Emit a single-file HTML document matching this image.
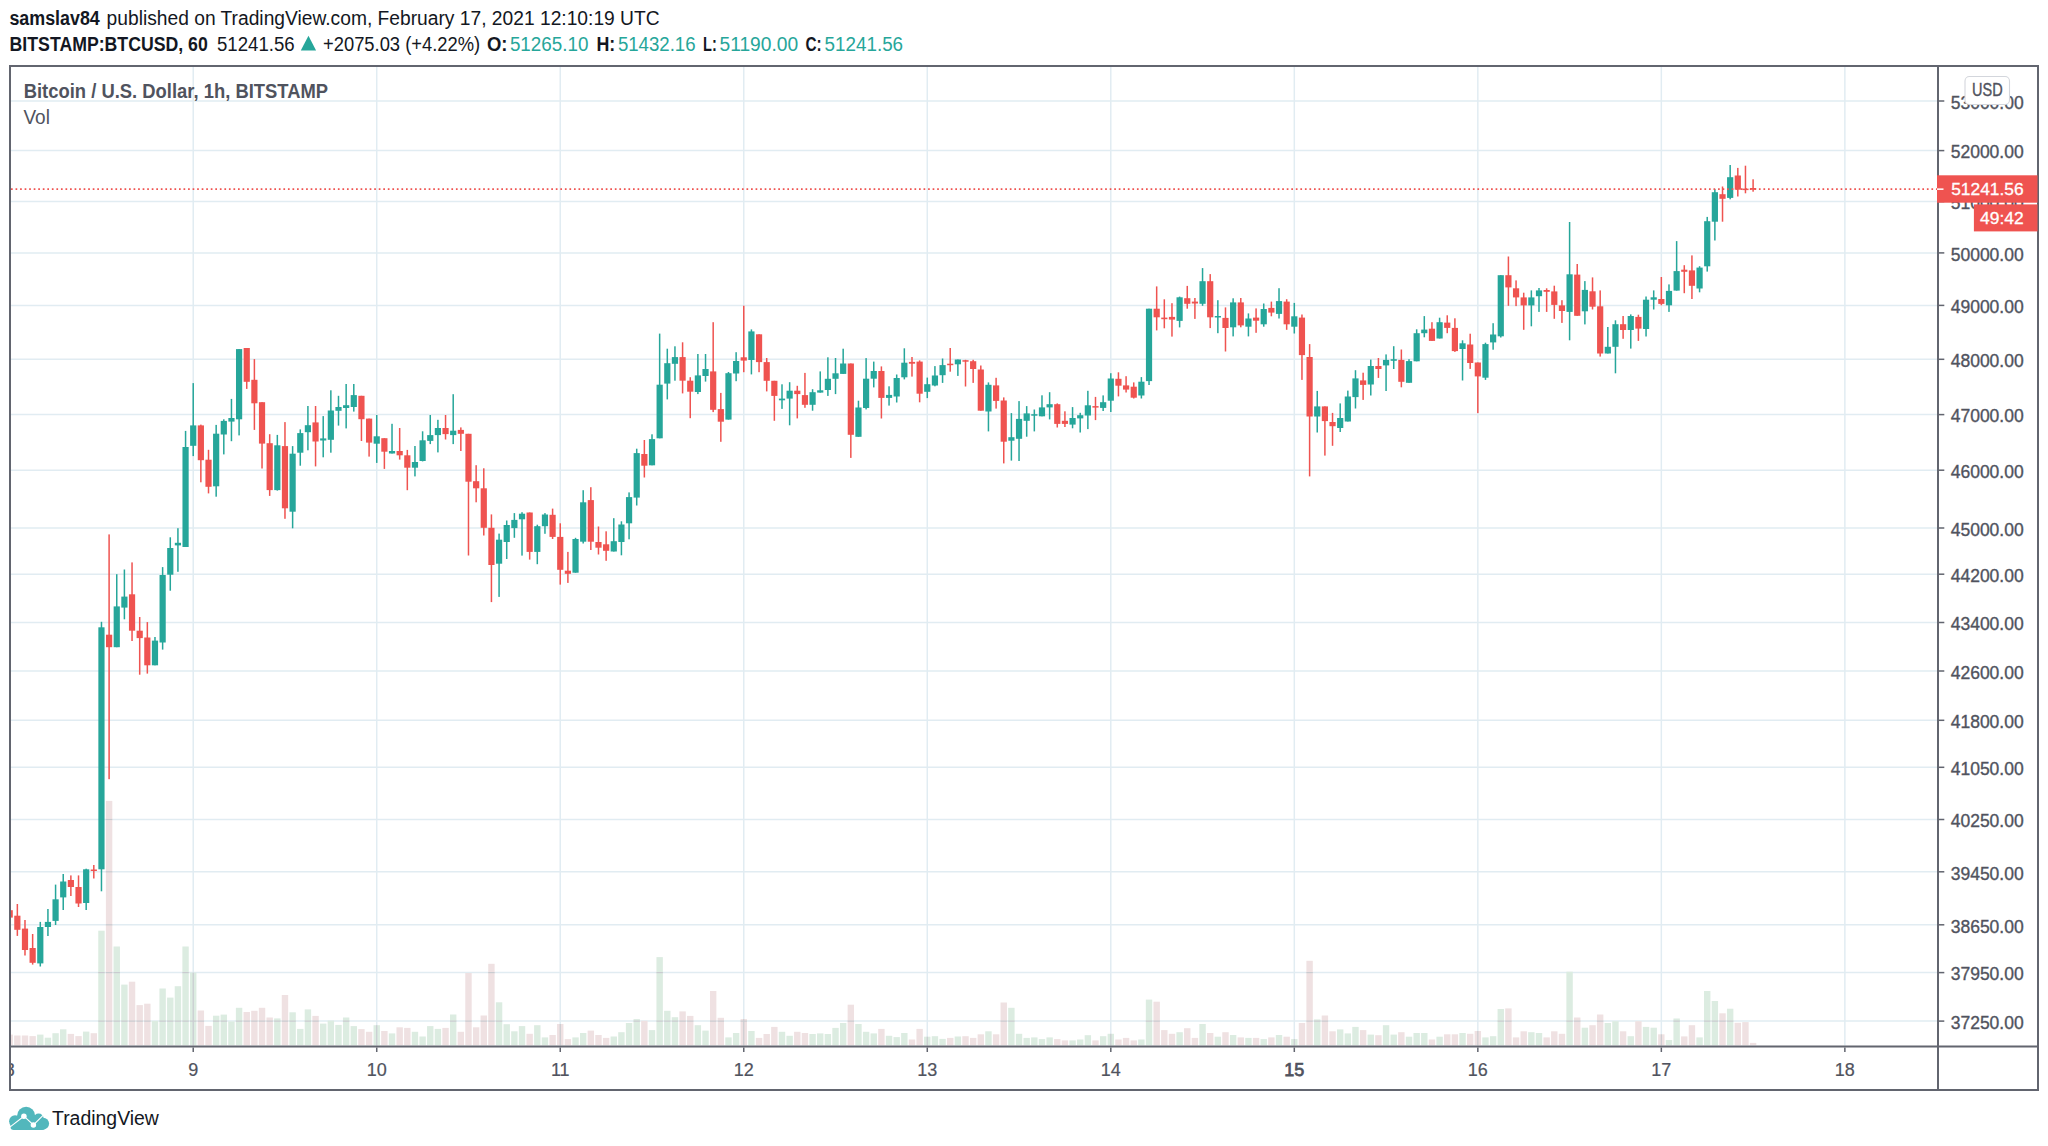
<!DOCTYPE html>
<html><head><meta charset="utf-8"><title>BTCUSD</title>
<style>html,body{margin:0;padding:0;background:#fff;width:2048px;height:1146px;overflow:hidden;position:relative}</style>
</head><body>
<svg width="2048" height="1146" viewBox="0 0 2048 1146" style="position:absolute;left:0;top:0">
<defs><clipPath id="pane"><rect x="11" y="67" width="1926" height="978.5"/></clipPath></defs>
<g stroke="#e1ecf2" stroke-width="1.5">
<line x1="11" y1="101" x2="1937" y2="101"/>
<line x1="11" y1="150.6" x2="1937" y2="150.6"/>
<line x1="11" y1="201.6" x2="1937" y2="201.6"/>
<line x1="11" y1="252.9" x2="1937" y2="252.9"/>
<line x1="11" y1="305.4" x2="1937" y2="305.4"/>
<line x1="11" y1="359.3" x2="1937" y2="359.3"/>
<line x1="11" y1="414.6" x2="1937" y2="414.6"/>
<line x1="11" y1="470.2" x2="1937" y2="470.2"/>
<line x1="11" y1="528" x2="1937" y2="528"/>
<line x1="11" y1="574.2" x2="1937" y2="574.2"/>
<line x1="11" y1="622.5" x2="1937" y2="622.5"/>
<line x1="11" y1="671" x2="1937" y2="671"/>
<line x1="11" y1="720.3" x2="1937" y2="720.3"/>
<line x1="11" y1="767.3" x2="1937" y2="767.3"/>
<line x1="11" y1="819.5" x2="1937" y2="819.5"/>
<line x1="11" y1="871.8" x2="1937" y2="871.8"/>
<line x1="11" y1="924.8" x2="1937" y2="924.8"/>
<line x1="11" y1="972.6" x2="1937" y2="972.6"/>
<line x1="11" y1="1021.1" x2="1937" y2="1021.1"/>
<line x1="193.22" y1="67" x2="193.22" y2="1045.5"/>
<line x1="376.73" y1="67" x2="376.73" y2="1045.5"/>
<line x1="560.25" y1="67" x2="560.25" y2="1045.5"/>
<line x1="743.76" y1="67" x2="743.76" y2="1045.5"/>
<line x1="927.28" y1="67" x2="927.28" y2="1045.5"/>
<line x1="1110.80" y1="67" x2="1110.80" y2="1045.5"/>
<line x1="1294.31" y1="67" x2="1294.31" y2="1045.5"/>
<line x1="1477.83" y1="67" x2="1477.83" y2="1045.5"/>
<line x1="1661.34" y1="67" x2="1661.34" y2="1045.5"/>
<line x1="1844.86" y1="67" x2="1844.86" y2="1045.5"/>
</g>
<g clip-path="url(#pane)">
<g>
<rect x="6.50" y="1034.6" width="6.4" height="10.9" fill="#efe1e2"/>
<rect x="14.15" y="1035.5" width="6.4" height="10.0" fill="#efe1e2"/>
<rect x="21.79" y="1035.5" width="6.4" height="10.0" fill="#efe1e2"/>
<rect x="29.44" y="1036.1" width="6.4" height="9.4" fill="#efe1e2"/>
<rect x="37.09" y="1034.6" width="6.4" height="10.9" fill="#dcece1"/>
<rect x="44.73" y="1037.7" width="6.4" height="7.8" fill="#dcece1"/>
<rect x="52.38" y="1033.2" width="6.4" height="12.3" fill="#dcece1"/>
<rect x="60.03" y="1029.3" width="6.4" height="16.2" fill="#dcece1"/>
<rect x="67.67" y="1033.9" width="6.4" height="11.6" fill="#efe1e2"/>
<rect x="75.32" y="1036.1" width="6.4" height="9.4" fill="#efe1e2"/>
<rect x="82.97" y="1031.6" width="6.4" height="13.9" fill="#dcece1"/>
<rect x="90.61" y="1033.2" width="6.4" height="12.3" fill="#efe1e2"/>
<rect x="98.26" y="930.7" width="6.4" height="114.8" fill="#dcece1"/>
<rect x="98.26" y="972.0" width="6.4" height="1.2" fill="#c9cbd0"/>
<rect x="98.26" y="1020.5" width="6.4" height="1.2" fill="#c9cbd0"/>
<rect x="105.90" y="800.9" width="6.4" height="244.6" fill="#efe1e2"/>
<rect x="105.90" y="818.9" width="6.4" height="1.2" fill="#c9cbd0"/>
<rect x="105.90" y="871.2" width="6.4" height="1.2" fill="#c9cbd0"/>
<rect x="105.90" y="924.2" width="6.4" height="1.2" fill="#c9cbd0"/>
<rect x="105.90" y="972.0" width="6.4" height="1.2" fill="#c9cbd0"/>
<rect x="105.90" y="1020.5" width="6.4" height="1.2" fill="#c9cbd0"/>
<rect x="113.55" y="946.5" width="6.4" height="99.0" fill="#dcece1"/>
<rect x="113.55" y="972.0" width="6.4" height="1.2" fill="#c9cbd0"/>
<rect x="113.55" y="1020.5" width="6.4" height="1.2" fill="#c9cbd0"/>
<rect x="121.20" y="984.6" width="6.4" height="60.9" fill="#dcece1"/>
<rect x="121.20" y="1020.5" width="6.4" height="1.2" fill="#c9cbd0"/>
<rect x="128.84" y="981.7" width="6.4" height="63.8" fill="#efe1e2"/>
<rect x="128.84" y="1020.5" width="6.4" height="1.2" fill="#c9cbd0"/>
<rect x="136.49" y="1005.1" width="6.4" height="40.4" fill="#efe1e2"/>
<rect x="136.49" y="1020.5" width="6.4" height="1.2" fill="#c9cbd0"/>
<rect x="144.14" y="1003.7" width="6.4" height="41.8" fill="#efe1e2"/>
<rect x="144.14" y="1020.5" width="6.4" height="1.2" fill="#c9cbd0"/>
<rect x="151.78" y="1020.9" width="6.4" height="24.6" fill="#dcece1"/>
<rect x="159.43" y="988.5" width="6.4" height="57.0" fill="#dcece1"/>
<rect x="159.43" y="1020.5" width="6.4" height="1.2" fill="#c9cbd0"/>
<rect x="167.08" y="997.6" width="6.4" height="47.9" fill="#dcece1"/>
<rect x="167.08" y="1020.5" width="6.4" height="1.2" fill="#c9cbd0"/>
<rect x="174.72" y="986.2" width="6.4" height="59.3" fill="#dcece1"/>
<rect x="174.72" y="1020.5" width="6.4" height="1.2" fill="#c9cbd0"/>
<rect x="182.37" y="946.5" width="6.4" height="99.0" fill="#dcece1"/>
<rect x="182.37" y="972.0" width="6.4" height="1.2" fill="#c9cbd0"/>
<rect x="182.37" y="1020.5" width="6.4" height="1.2" fill="#c9cbd0"/>
<rect x="190.02" y="972.6" width="6.4" height="72.9" fill="#dcece1"/>
<rect x="190.02" y="1020.5" width="6.4" height="1.2" fill="#c9cbd0"/>
<rect x="192.62" y="972.6" width="1.2" height="72.9" fill="#c9cbd0"/>
<rect x="197.66" y="1010.5" width="6.4" height="35.0" fill="#efe1e2"/>
<rect x="197.66" y="1020.5" width="6.4" height="1.2" fill="#c9cbd0"/>
<rect x="205.31" y="1025.9" width="6.4" height="19.6" fill="#efe1e2"/>
<rect x="212.96" y="1015.7" width="6.4" height="29.8" fill="#dcece1"/>
<rect x="212.96" y="1020.5" width="6.4" height="1.2" fill="#c9cbd0"/>
<rect x="220.60" y="1014.6" width="6.4" height="30.9" fill="#dcece1"/>
<rect x="220.60" y="1020.5" width="6.4" height="1.2" fill="#c9cbd0"/>
<rect x="228.25" y="1021.4" width="6.4" height="24.1" fill="#dcece1"/>
<rect x="235.89" y="1007.8" width="6.4" height="37.7" fill="#dcece1"/>
<rect x="235.89" y="1020.5" width="6.4" height="1.2" fill="#c9cbd0"/>
<rect x="243.54" y="1012.0" width="6.4" height="33.5" fill="#efe1e2"/>
<rect x="243.54" y="1020.5" width="6.4" height="1.2" fill="#c9cbd0"/>
<rect x="251.19" y="1010.8" width="6.4" height="34.7" fill="#efe1e2"/>
<rect x="251.19" y="1020.5" width="6.4" height="1.2" fill="#c9cbd0"/>
<rect x="258.83" y="1007.8" width="6.4" height="37.7" fill="#efe1e2"/>
<rect x="258.83" y="1020.5" width="6.4" height="1.2" fill="#c9cbd0"/>
<rect x="266.48" y="1017.5" width="6.4" height="28.0" fill="#efe1e2"/>
<rect x="266.48" y="1020.5" width="6.4" height="1.2" fill="#c9cbd0"/>
<rect x="274.13" y="1018.4" width="6.4" height="27.1" fill="#dcece1"/>
<rect x="274.13" y="1020.5" width="6.4" height="1.2" fill="#c9cbd0"/>
<rect x="281.77" y="995.0" width="6.4" height="50.5" fill="#efe1e2"/>
<rect x="281.77" y="1020.5" width="6.4" height="1.2" fill="#c9cbd0"/>
<rect x="289.42" y="1012.3" width="6.4" height="33.2" fill="#dcece1"/>
<rect x="289.42" y="1020.5" width="6.4" height="1.2" fill="#c9cbd0"/>
<rect x="297.07" y="1028.9" width="6.4" height="16.6" fill="#dcece1"/>
<rect x="304.71" y="1009.4" width="6.4" height="36.1" fill="#dcece1"/>
<rect x="304.71" y="1020.5" width="6.4" height="1.2" fill="#c9cbd0"/>
<rect x="312.36" y="1015.9" width="6.4" height="29.6" fill="#efe1e2"/>
<rect x="312.36" y="1020.5" width="6.4" height="1.2" fill="#c9cbd0"/>
<rect x="320.01" y="1023.6" width="6.4" height="21.9" fill="#dcece1"/>
<rect x="327.65" y="1020.6" width="6.4" height="24.9" fill="#dcece1"/>
<rect x="335.30" y="1024.9" width="6.4" height="20.6" fill="#dcece1"/>
<rect x="342.95" y="1017.5" width="6.4" height="28.0" fill="#dcece1"/>
<rect x="342.95" y="1020.5" width="6.4" height="1.2" fill="#c9cbd0"/>
<rect x="350.59" y="1026.1" width="6.4" height="19.4" fill="#dcece1"/>
<rect x="358.24" y="1029.1" width="6.4" height="16.4" fill="#efe1e2"/>
<rect x="365.89" y="1031.8" width="6.4" height="13.7" fill="#efe1e2"/>
<rect x="373.53" y="1025.2" width="6.4" height="20.3" fill="#dcece1"/>
<rect x="376.13" y="1025.2" width="1.2" height="20.3" fill="#c9cbd0"/>
<rect x="381.18" y="1031.0" width="6.4" height="14.5" fill="#efe1e2"/>
<rect x="388.82" y="1033.4" width="6.4" height="12.1" fill="#dcece1"/>
<rect x="396.47" y="1027.3" width="6.4" height="18.2" fill="#efe1e2"/>
<rect x="404.12" y="1027.9" width="6.4" height="17.6" fill="#efe1e2"/>
<rect x="411.76" y="1031.8" width="6.4" height="13.7" fill="#dcece1"/>
<rect x="419.41" y="1036.5" width="6.4" height="9.0" fill="#dcece1"/>
<rect x="427.06" y="1026.1" width="6.4" height="19.4" fill="#dcece1"/>
<rect x="434.70" y="1028.9" width="6.4" height="16.6" fill="#dcece1"/>
<rect x="442.35" y="1027.9" width="6.4" height="17.6" fill="#efe1e2"/>
<rect x="450.00" y="1014.5" width="6.4" height="31.0" fill="#dcece1"/>
<rect x="450.00" y="1020.5" width="6.4" height="1.2" fill="#c9cbd0"/>
<rect x="457.64" y="1031.8" width="6.4" height="13.7" fill="#efe1e2"/>
<rect x="465.29" y="973.0" width="6.4" height="72.5" fill="#efe1e2"/>
<rect x="465.29" y="1020.5" width="6.4" height="1.2" fill="#c9cbd0"/>
<rect x="472.94" y="1027.3" width="6.4" height="18.2" fill="#efe1e2"/>
<rect x="480.58" y="1015.5" width="6.4" height="30.0" fill="#efe1e2"/>
<rect x="480.58" y="1020.5" width="6.4" height="1.2" fill="#c9cbd0"/>
<rect x="488.23" y="963.8" width="6.4" height="81.7" fill="#efe1e2"/>
<rect x="488.23" y="972.0" width="6.4" height="1.2" fill="#c9cbd0"/>
<rect x="488.23" y="1020.5" width="6.4" height="1.2" fill="#c9cbd0"/>
<rect x="495.88" y="1002.3" width="6.4" height="43.2" fill="#dcece1"/>
<rect x="495.88" y="1020.5" width="6.4" height="1.2" fill="#c9cbd0"/>
<rect x="503.52" y="1024.2" width="6.4" height="21.3" fill="#dcece1"/>
<rect x="511.17" y="1031.3" width="6.4" height="14.2" fill="#dcece1"/>
<rect x="518.82" y="1026.1" width="6.4" height="19.4" fill="#dcece1"/>
<rect x="526.46" y="1033.8" width="6.4" height="11.7" fill="#efe1e2"/>
<rect x="534.11" y="1025.2" width="6.4" height="20.3" fill="#dcece1"/>
<rect x="541.75" y="1037.4" width="6.4" height="8.1" fill="#dcece1"/>
<rect x="549.40" y="1035.0" width="6.4" height="10.5" fill="#efe1e2"/>
<rect x="557.05" y="1024.0" width="6.4" height="21.5" fill="#efe1e2"/>
<rect x="559.65" y="1024.0" width="1.2" height="21.5" fill="#c9cbd0"/>
<rect x="564.69" y="1039.1" width="6.4" height="6.4" fill="#efe1e2"/>
<rect x="572.34" y="1037.4" width="6.4" height="8.1" fill="#dcece1"/>
<rect x="579.99" y="1033.0" width="6.4" height="12.5" fill="#dcece1"/>
<rect x="587.63" y="1030.6" width="6.4" height="14.9" fill="#efe1e2"/>
<rect x="595.28" y="1035.0" width="6.4" height="10.5" fill="#efe1e2"/>
<rect x="602.93" y="1037.9" width="6.4" height="7.6" fill="#efe1e2"/>
<rect x="610.57" y="1036.5" width="6.4" height="9.0" fill="#dcece1"/>
<rect x="618.22" y="1032.2" width="6.4" height="13.3" fill="#dcece1"/>
<rect x="625.87" y="1023.0" width="6.4" height="22.5" fill="#dcece1"/>
<rect x="633.51" y="1019.1" width="6.4" height="26.4" fill="#dcece1"/>
<rect x="633.51" y="1020.5" width="6.4" height="1.2" fill="#c9cbd0"/>
<rect x="641.16" y="1020.8" width="6.4" height="24.7" fill="#efe1e2"/>
<rect x="648.81" y="1030.1" width="6.4" height="15.4" fill="#dcece1"/>
<rect x="656.45" y="957.1" width="6.4" height="88.4" fill="#dcece1"/>
<rect x="656.45" y="972.0" width="6.4" height="1.2" fill="#c9cbd0"/>
<rect x="656.45" y="1020.5" width="6.4" height="1.2" fill="#c9cbd0"/>
<rect x="664.10" y="1010.8" width="6.4" height="34.7" fill="#dcece1"/>
<rect x="664.10" y="1020.5" width="6.4" height="1.2" fill="#c9cbd0"/>
<rect x="671.75" y="1017.2" width="6.4" height="28.3" fill="#dcece1"/>
<rect x="671.75" y="1020.5" width="6.4" height="1.2" fill="#c9cbd0"/>
<rect x="679.39" y="1011.4" width="6.4" height="34.1" fill="#efe1e2"/>
<rect x="679.39" y="1020.5" width="6.4" height="1.2" fill="#c9cbd0"/>
<rect x="687.04" y="1015.9" width="6.4" height="29.6" fill="#efe1e2"/>
<rect x="687.04" y="1020.5" width="6.4" height="1.2" fill="#c9cbd0"/>
<rect x="694.68" y="1025.2" width="6.4" height="20.3" fill="#dcece1"/>
<rect x="702.33" y="1030.6" width="6.4" height="14.9" fill="#dcece1"/>
<rect x="709.98" y="991.0" width="6.4" height="54.5" fill="#efe1e2"/>
<rect x="709.98" y="1020.5" width="6.4" height="1.2" fill="#c9cbd0"/>
<rect x="717.62" y="1017.8" width="6.4" height="27.7" fill="#efe1e2"/>
<rect x="717.62" y="1020.5" width="6.4" height="1.2" fill="#c9cbd0"/>
<rect x="725.27" y="1037.4" width="6.4" height="8.1" fill="#dcece1"/>
<rect x="732.92" y="1033.0" width="6.4" height="12.5" fill="#dcece1"/>
<rect x="740.56" y="1019.1" width="6.4" height="26.4" fill="#efe1e2"/>
<rect x="740.56" y="1020.5" width="6.4" height="1.2" fill="#c9cbd0"/>
<rect x="743.16" y="1019.1" width="1.2" height="26.4" fill="#c9cbd0"/>
<rect x="748.21" y="1031.0" width="6.4" height="14.5" fill="#dcece1"/>
<rect x="755.86" y="1037.9" width="6.4" height="7.6" fill="#efe1e2"/>
<rect x="763.50" y="1034.0" width="6.4" height="11.5" fill="#efe1e2"/>
<rect x="771.15" y="1026.9" width="6.4" height="18.6" fill="#efe1e2"/>
<rect x="778.80" y="1031.8" width="6.4" height="13.7" fill="#dcece1"/>
<rect x="786.44" y="1035.8" width="6.4" height="9.7" fill="#dcece1"/>
<rect x="794.09" y="1031.8" width="6.4" height="13.7" fill="#efe1e2"/>
<rect x="801.74" y="1033.0" width="6.4" height="12.5" fill="#efe1e2"/>
<rect x="809.38" y="1034.0" width="6.4" height="11.5" fill="#dcece1"/>
<rect x="817.03" y="1033.4" width="6.4" height="12.1" fill="#dcece1"/>
<rect x="824.68" y="1034.0" width="6.4" height="11.5" fill="#dcece1"/>
<rect x="832.32" y="1027.9" width="6.4" height="17.6" fill="#dcece1"/>
<rect x="839.97" y="1023.0" width="6.4" height="22.5" fill="#dcece1"/>
<rect x="847.62" y="1004.7" width="6.4" height="40.8" fill="#efe1e2"/>
<rect x="847.62" y="1020.5" width="6.4" height="1.2" fill="#c9cbd0"/>
<rect x="855.26" y="1024.0" width="6.4" height="21.5" fill="#dcece1"/>
<rect x="862.91" y="1031.8" width="6.4" height="13.7" fill="#dcece1"/>
<rect x="870.55" y="1033.4" width="6.4" height="12.1" fill="#dcece1"/>
<rect x="878.20" y="1028.9" width="6.4" height="16.6" fill="#efe1e2"/>
<rect x="885.85" y="1035.8" width="6.4" height="9.7" fill="#dcece1"/>
<rect x="893.49" y="1037.1" width="6.4" height="8.4" fill="#dcece1"/>
<rect x="901.14" y="1033.0" width="6.4" height="12.5" fill="#dcece1"/>
<rect x="908.79" y="1039.5" width="6.4" height="6.0" fill="#efe1e2"/>
<rect x="916.43" y="1028.9" width="6.4" height="16.6" fill="#efe1e2"/>
<rect x="924.08" y="1036.7" width="6.4" height="8.8" fill="#dcece1"/>
<rect x="926.68" y="1036.7" width="1.2" height="8.8" fill="#c9cbd0"/>
<rect x="931.73" y="1036.2" width="6.4" height="9.3" fill="#dcece1"/>
<rect x="939.37" y="1038.9" width="6.4" height="6.6" fill="#dcece1"/>
<rect x="947.02" y="1037.9" width="6.4" height="7.6" fill="#efe1e2"/>
<rect x="954.67" y="1036.5" width="6.4" height="9.0" fill="#dcece1"/>
<rect x="962.31" y="1036.2" width="6.4" height="9.3" fill="#efe1e2"/>
<rect x="969.96" y="1037.9" width="6.4" height="7.6" fill="#efe1e2"/>
<rect x="977.61" y="1034.3" width="6.4" height="11.2" fill="#efe1e2"/>
<rect x="985.25" y="1031.3" width="6.4" height="14.2" fill="#dcece1"/>
<rect x="992.90" y="1034.3" width="6.4" height="11.2" fill="#efe1e2"/>
<rect x="1000.54" y="1002.5" width="6.4" height="43.0" fill="#efe1e2"/>
<rect x="1000.54" y="1020.5" width="6.4" height="1.2" fill="#c9cbd0"/>
<rect x="1008.19" y="1007.8" width="6.4" height="37.7" fill="#dcece1"/>
<rect x="1008.19" y="1020.5" width="6.4" height="1.2" fill="#c9cbd0"/>
<rect x="1015.84" y="1033.8" width="6.4" height="11.7" fill="#dcece1"/>
<rect x="1023.48" y="1037.9" width="6.4" height="7.6" fill="#dcece1"/>
<rect x="1031.13" y="1037.4" width="6.4" height="8.1" fill="#dcece1"/>
<rect x="1038.78" y="1039.1" width="6.4" height="6.4" fill="#dcece1"/>
<rect x="1046.42" y="1037.4" width="6.4" height="8.1" fill="#dcece1"/>
<rect x="1054.07" y="1039.1" width="6.4" height="6.4" fill="#efe1e2"/>
<rect x="1061.72" y="1040.4" width="6.4" height="5.1" fill="#efe1e2"/>
<rect x="1069.36" y="1040.4" width="6.4" height="5.1" fill="#dcece1"/>
<rect x="1077.01" y="1039.5" width="6.4" height="6.0" fill="#dcece1"/>
<rect x="1084.66" y="1035.2" width="6.4" height="10.3" fill="#dcece1"/>
<rect x="1092.30" y="1040.4" width="6.4" height="5.1" fill="#efe1e2"/>
<rect x="1099.95" y="1036.2" width="6.4" height="9.3" fill="#dcece1"/>
<rect x="1107.60" y="1033.8" width="6.4" height="11.7" fill="#dcece1"/>
<rect x="1110.20" y="1033.8" width="1.2" height="11.7" fill="#c9cbd0"/>
<rect x="1115.24" y="1039.5" width="6.4" height="6.0" fill="#efe1e2"/>
<rect x="1122.89" y="1037.9" width="6.4" height="7.6" fill="#efe1e2"/>
<rect x="1130.54" y="1040.4" width="6.4" height="5.1" fill="#efe1e2"/>
<rect x="1138.18" y="1039.5" width="6.4" height="6.0" fill="#dcece1"/>
<rect x="1145.83" y="999.6" width="6.4" height="45.9" fill="#dcece1"/>
<rect x="1145.83" y="1020.5" width="6.4" height="1.2" fill="#c9cbd0"/>
<rect x="1153.47" y="1001.7" width="6.4" height="43.8" fill="#efe1e2"/>
<rect x="1153.47" y="1020.5" width="6.4" height="1.2" fill="#c9cbd0"/>
<rect x="1161.12" y="1030.1" width="6.4" height="15.4" fill="#efe1e2"/>
<rect x="1168.77" y="1033.8" width="6.4" height="11.7" fill="#efe1e2"/>
<rect x="1176.41" y="1032.2" width="6.4" height="13.3" fill="#dcece1"/>
<rect x="1184.06" y="1028.2" width="6.4" height="17.3" fill="#efe1e2"/>
<rect x="1191.71" y="1037.9" width="6.4" height="7.6" fill="#efe1e2"/>
<rect x="1199.35" y="1024.0" width="6.4" height="21.5" fill="#dcece1"/>
<rect x="1207.00" y="1033.0" width="6.4" height="12.5" fill="#efe1e2"/>
<rect x="1214.65" y="1036.7" width="6.4" height="8.8" fill="#dcece1"/>
<rect x="1222.29" y="1032.2" width="6.4" height="13.3" fill="#efe1e2"/>
<rect x="1229.94" y="1035.0" width="6.4" height="10.5" fill="#dcece1"/>
<rect x="1237.59" y="1037.4" width="6.4" height="8.1" fill="#efe1e2"/>
<rect x="1245.23" y="1037.9" width="6.4" height="7.6" fill="#dcece1"/>
<rect x="1252.88" y="1037.9" width="6.4" height="7.6" fill="#efe1e2"/>
<rect x="1260.53" y="1039.1" width="6.4" height="6.4" fill="#dcece1"/>
<rect x="1268.17" y="1037.4" width="6.4" height="8.1" fill="#efe1e2"/>
<rect x="1275.82" y="1035.0" width="6.4" height="10.5" fill="#dcece1"/>
<rect x="1283.47" y="1036.7" width="6.4" height="8.8" fill="#efe1e2"/>
<rect x="1291.11" y="1039.1" width="6.4" height="6.4" fill="#dcece1"/>
<rect x="1293.71" y="1039.1" width="1.2" height="6.4" fill="#c9cbd0"/>
<rect x="1298.76" y="1023.0" width="6.4" height="22.5" fill="#efe1e2"/>
<rect x="1306.40" y="960.8" width="6.4" height="84.7" fill="#efe1e2"/>
<rect x="1306.40" y="972.0" width="6.4" height="1.2" fill="#c9cbd0"/>
<rect x="1306.40" y="1020.5" width="6.4" height="1.2" fill="#c9cbd0"/>
<rect x="1314.05" y="1019.4" width="6.4" height="26.1" fill="#dcece1"/>
<rect x="1314.05" y="1020.5" width="6.4" height="1.2" fill="#c9cbd0"/>
<rect x="1321.70" y="1015.5" width="6.4" height="30.0" fill="#efe1e2"/>
<rect x="1321.70" y="1020.5" width="6.4" height="1.2" fill="#c9cbd0"/>
<rect x="1329.34" y="1031.3" width="6.4" height="14.2" fill="#efe1e2"/>
<rect x="1336.99" y="1029.4" width="6.4" height="16.1" fill="#dcece1"/>
<rect x="1344.64" y="1033.4" width="6.4" height="12.1" fill="#dcece1"/>
<rect x="1352.28" y="1026.9" width="6.4" height="18.6" fill="#dcece1"/>
<rect x="1359.93" y="1030.1" width="6.4" height="15.4" fill="#efe1e2"/>
<rect x="1367.58" y="1034.6" width="6.4" height="10.9" fill="#dcece1"/>
<rect x="1375.22" y="1035.2" width="6.4" height="10.3" fill="#efe1e2"/>
<rect x="1382.87" y="1025.2" width="6.4" height="20.3" fill="#dcece1"/>
<rect x="1390.52" y="1034.6" width="6.4" height="10.9" fill="#dcece1"/>
<rect x="1398.16" y="1032.2" width="6.4" height="13.3" fill="#efe1e2"/>
<rect x="1405.81" y="1036.7" width="6.4" height="8.8" fill="#dcece1"/>
<rect x="1413.46" y="1033.0" width="6.4" height="12.5" fill="#dcece1"/>
<rect x="1421.10" y="1033.0" width="6.4" height="12.5" fill="#dcece1"/>
<rect x="1428.75" y="1039.5" width="6.4" height="6.0" fill="#efe1e2"/>
<rect x="1436.40" y="1036.7" width="6.4" height="8.8" fill="#dcece1"/>
<rect x="1444.04" y="1034.3" width="6.4" height="11.2" fill="#efe1e2"/>
<rect x="1451.69" y="1034.3" width="6.4" height="11.2" fill="#efe1e2"/>
<rect x="1459.34" y="1033.0" width="6.4" height="12.5" fill="#dcece1"/>
<rect x="1466.98" y="1033.8" width="6.4" height="11.7" fill="#efe1e2"/>
<rect x="1474.63" y="1031.0" width="6.4" height="14.5" fill="#efe1e2"/>
<rect x="1477.23" y="1031.0" width="1.2" height="14.5" fill="#c9cbd0"/>
<rect x="1482.27" y="1037.4" width="6.4" height="8.1" fill="#dcece1"/>
<rect x="1489.92" y="1036.2" width="6.4" height="9.3" fill="#dcece1"/>
<rect x="1497.57" y="1009.0" width="6.4" height="36.5" fill="#dcece1"/>
<rect x="1497.57" y="1020.5" width="6.4" height="1.2" fill="#c9cbd0"/>
<rect x="1505.21" y="1008.4" width="6.4" height="37.1" fill="#efe1e2"/>
<rect x="1505.21" y="1020.5" width="6.4" height="1.2" fill="#c9cbd0"/>
<rect x="1512.86" y="1037.4" width="6.4" height="8.1" fill="#efe1e2"/>
<rect x="1520.51" y="1031.3" width="6.4" height="14.2" fill="#efe1e2"/>
<rect x="1528.15" y="1032.2" width="6.4" height="13.3" fill="#dcece1"/>
<rect x="1535.80" y="1033.0" width="6.4" height="12.5" fill="#dcece1"/>
<rect x="1543.45" y="1037.4" width="6.4" height="8.1" fill="#efe1e2"/>
<rect x="1551.09" y="1031.3" width="6.4" height="14.2" fill="#efe1e2"/>
<rect x="1558.74" y="1033.8" width="6.4" height="11.7" fill="#efe1e2"/>
<rect x="1566.39" y="971.7" width="6.4" height="73.8" fill="#dcece1"/>
<rect x="1566.39" y="1020.5" width="6.4" height="1.2" fill="#c9cbd0"/>
<rect x="1574.03" y="1017.5" width="6.4" height="28.0" fill="#efe1e2"/>
<rect x="1574.03" y="1020.5" width="6.4" height="1.2" fill="#c9cbd0"/>
<rect x="1581.68" y="1027.7" width="6.4" height="17.8" fill="#dcece1"/>
<rect x="1589.33" y="1025.2" width="6.4" height="20.3" fill="#efe1e2"/>
<rect x="1596.97" y="1014.5" width="6.4" height="31.0" fill="#efe1e2"/>
<rect x="1596.97" y="1020.5" width="6.4" height="1.2" fill="#c9cbd0"/>
<rect x="1604.62" y="1023.0" width="6.4" height="22.5" fill="#dcece1"/>
<rect x="1612.26" y="1021.2" width="6.4" height="24.3" fill="#dcece1"/>
<rect x="1619.91" y="1031.3" width="6.4" height="14.2" fill="#efe1e2"/>
<rect x="1627.56" y="1036.2" width="6.4" height="9.3" fill="#dcece1"/>
<rect x="1635.20" y="1021.2" width="6.4" height="24.3" fill="#efe1e2"/>
<rect x="1642.85" y="1026.9" width="6.4" height="18.6" fill="#dcece1"/>
<rect x="1650.50" y="1027.7" width="6.4" height="17.8" fill="#dcece1"/>
<rect x="1658.14" y="1034.3" width="6.4" height="11.2" fill="#efe1e2"/>
<rect x="1660.74" y="1034.3" width="1.2" height="11.2" fill="#c9cbd0"/>
<rect x="1665.79" y="1040.0" width="6.4" height="5.5" fill="#dcece1"/>
<rect x="1673.44" y="1018.5" width="6.4" height="27.0" fill="#dcece1"/>
<rect x="1673.44" y="1020.5" width="6.4" height="1.2" fill="#c9cbd0"/>
<rect x="1681.08" y="1036.4" width="6.4" height="9.1" fill="#efe1e2"/>
<rect x="1688.73" y="1025.2" width="6.4" height="20.3" fill="#efe1e2"/>
<rect x="1696.38" y="1037.4" width="6.4" height="8.1" fill="#dcece1"/>
<rect x="1704.02" y="991.0" width="6.4" height="54.5" fill="#dcece1"/>
<rect x="1704.02" y="1020.5" width="6.4" height="1.2" fill="#c9cbd0"/>
<rect x="1711.67" y="1001.0" width="6.4" height="44.5" fill="#dcece1"/>
<rect x="1711.67" y="1020.5" width="6.4" height="1.2" fill="#c9cbd0"/>
<rect x="1719.32" y="1013.3" width="6.4" height="32.2" fill="#efe1e2"/>
<rect x="1719.32" y="1020.5" width="6.4" height="1.2" fill="#c9cbd0"/>
<rect x="1726.96" y="1008.7" width="6.4" height="36.8" fill="#dcece1"/>
<rect x="1726.96" y="1020.5" width="6.4" height="1.2" fill="#c9cbd0"/>
<rect x="1734.61" y="1022.8" width="6.4" height="22.7" fill="#efe1e2"/>
<rect x="1742.26" y="1022.1" width="6.4" height="23.4" fill="#efe1e2"/>
<rect x="1749.90" y="1042.9" width="6.4" height="2.6" fill="#efe1e2"/>
</g>
<rect x="8.95" y="909.0" width="1.5" height="10.0" fill="#ef5350"/>
<rect x="6.60" y="910.2" width="6.2" height="7.4" fill="#ef5350"/>
<rect x="16.60" y="904.0" width="1.5" height="31.9" fill="#ef5350"/>
<rect x="14.25" y="915.7" width="6.2" height="14.1" fill="#ef5350"/>
<rect x="24.24" y="920.0" width="1.5" height="35.5" fill="#ef5350"/>
<rect x="21.89" y="928.6" width="6.2" height="21.4" fill="#ef5350"/>
<rect x="31.89" y="934.0" width="1.5" height="30.6" fill="#ef5350"/>
<rect x="29.54" y="948.0" width="6.2" height="14.8" fill="#ef5350"/>
<rect x="39.54" y="921.9" width="1.5" height="44.6" fill="#26a69a"/>
<rect x="37.19" y="927.0" width="6.2" height="36.4" fill="#26a69a"/>
<rect x="47.18" y="909.0" width="1.5" height="27.0" fill="#26a69a"/>
<rect x="44.83" y="921.9" width="6.2" height="5.1" fill="#26a69a"/>
<rect x="54.83" y="884.6" width="1.5" height="40.4" fill="#26a69a"/>
<rect x="52.48" y="899.3" width="6.2" height="21.6" fill="#26a69a"/>
<rect x="62.48" y="874.0" width="1.5" height="36.0" fill="#26a69a"/>
<rect x="60.13" y="881.5" width="6.2" height="15.9" fill="#26a69a"/>
<rect x="70.12" y="875.4" width="1.5" height="20.6" fill="#ef5350"/>
<rect x="67.77" y="880.0" width="6.2" height="7.0" fill="#ef5350"/>
<rect x="77.77" y="875.4" width="1.5" height="31.6" fill="#ef5350"/>
<rect x="75.42" y="887.0" width="6.2" height="16.5" fill="#ef5350"/>
<rect x="85.42" y="868.7" width="1.5" height="41.3" fill="#26a69a"/>
<rect x="83.07" y="869.3" width="6.2" height="33.7" fill="#26a69a"/>
<rect x="93.06" y="865.0" width="1.5" height="13.5" fill="#ef5350"/>
<rect x="90.71" y="869.5" width="6.2" height="1.5" fill="#ef5350"/>
<rect x="100.71" y="621.8" width="1.5" height="269.5" fill="#26a69a"/>
<rect x="98.36" y="627.3" width="6.2" height="242.0" fill="#26a69a"/>
<rect x="108.35" y="534.4" width="1.5" height="244.8" fill="#ef5350"/>
<rect x="106.00" y="634.7" width="6.2" height="12.5" fill="#ef5350"/>
<rect x="116.00" y="574.2" width="1.5" height="73.0" fill="#26a69a"/>
<rect x="113.65" y="606.4" width="6.2" height="40.8" fill="#26a69a"/>
<rect x="123.65" y="569.5" width="1.5" height="49.8" fill="#26a69a"/>
<rect x="121.30" y="596.6" width="6.2" height="11.0" fill="#26a69a"/>
<rect x="131.29" y="562.4" width="1.5" height="78.6" fill="#ef5350"/>
<rect x="128.94" y="594.3" width="6.2" height="36.4" fill="#ef5350"/>
<rect x="138.94" y="617.0" width="1.5" height="57.7" fill="#ef5350"/>
<rect x="136.59" y="630.7" width="6.2" height="7.4" fill="#ef5350"/>
<rect x="146.59" y="622.1" width="1.5" height="51.5" fill="#ef5350"/>
<rect x="144.24" y="637.5" width="6.2" height="27.8" fill="#ef5350"/>
<rect x="154.23" y="637.0" width="1.5" height="28.3" fill="#26a69a"/>
<rect x="151.88" y="640.6" width="6.2" height="24.7" fill="#26a69a"/>
<rect x="161.88" y="567.1" width="1.5" height="82.5" fill="#26a69a"/>
<rect x="159.53" y="575.0" width="6.2" height="67.5" fill="#26a69a"/>
<rect x="169.53" y="537.3" width="1.5" height="53.4" fill="#26a69a"/>
<rect x="167.18" y="548.0" width="6.2" height="26.7" fill="#26a69a"/>
<rect x="177.17" y="528.2" width="1.5" height="43.6" fill="#26a69a"/>
<rect x="174.82" y="542.8" width="6.2" height="2.6" fill="#26a69a"/>
<rect x="184.82" y="430.9" width="1.5" height="116.1" fill="#26a69a"/>
<rect x="182.47" y="447.0" width="6.2" height="100.0" fill="#26a69a"/>
<rect x="192.47" y="383.1" width="1.5" height="73.0" fill="#26a69a"/>
<rect x="190.12" y="425.4" width="6.2" height="20.4" fill="#26a69a"/>
<rect x="200.11" y="424.6" width="1.5" height="57.7" fill="#ef5350"/>
<rect x="197.76" y="425.4" width="6.2" height="34.8" fill="#ef5350"/>
<rect x="207.76" y="449.8" width="1.5" height="43.6" fill="#ef5350"/>
<rect x="205.41" y="459.7" width="6.2" height="27.1" fill="#ef5350"/>
<rect x="215.41" y="424.9" width="1.5" height="71.8" fill="#26a69a"/>
<rect x="213.06" y="433.7" width="6.2" height="52.6" fill="#26a69a"/>
<rect x="223.05" y="419.3" width="1.5" height="35.1" fill="#26a69a"/>
<rect x="220.70" y="420.9" width="6.2" height="13.6" fill="#26a69a"/>
<rect x="230.70" y="398.9" width="1.5" height="42.3" fill="#26a69a"/>
<rect x="228.35" y="418.0" width="6.2" height="3.6" fill="#26a69a"/>
<rect x="238.34" y="349.1" width="1.5" height="86.3" fill="#26a69a"/>
<rect x="235.99" y="349.1" width="6.2" height="70.2" fill="#26a69a"/>
<rect x="245.99" y="348.0" width="1.5" height="40.9" fill="#ef5350"/>
<rect x="243.64" y="348.0" width="6.2" height="33.8" fill="#ef5350"/>
<rect x="253.64" y="359.1" width="1.5" height="70.8" fill="#ef5350"/>
<rect x="251.29" y="379.8" width="6.2" height="23.5" fill="#ef5350"/>
<rect x="261.28" y="402.2" width="1.5" height="66.3" fill="#ef5350"/>
<rect x="258.93" y="402.2" width="6.2" height="41.4" fill="#ef5350"/>
<rect x="268.93" y="434.2" width="1.5" height="61.7" fill="#ef5350"/>
<rect x="266.58" y="443.2" width="6.2" height="46.9" fill="#ef5350"/>
<rect x="276.58" y="434.9" width="1.5" height="55.7" fill="#26a69a"/>
<rect x="274.23" y="445.3" width="6.2" height="44.8" fill="#26a69a"/>
<rect x="284.22" y="422.1" width="1.5" height="96.7" fill="#ef5350"/>
<rect x="281.87" y="446.1" width="6.2" height="62.2" fill="#ef5350"/>
<rect x="291.87" y="446.1" width="1.5" height="82.2" fill="#26a69a"/>
<rect x="289.52" y="453.7" width="6.2" height="58.0" fill="#26a69a"/>
<rect x="299.52" y="429.4" width="1.5" height="36.3" fill="#26a69a"/>
<rect x="297.17" y="433.1" width="6.2" height="19.6" fill="#26a69a"/>
<rect x="307.16" y="406.0" width="1.5" height="44.3" fill="#26a69a"/>
<rect x="304.81" y="425.2" width="6.2" height="7.0" fill="#26a69a"/>
<rect x="314.81" y="406.0" width="1.5" height="60.4" fill="#ef5350"/>
<rect x="312.46" y="422.4" width="6.2" height="19.1" fill="#ef5350"/>
<rect x="322.46" y="416.1" width="1.5" height="41.2" fill="#26a69a"/>
<rect x="320.11" y="438.4" width="6.2" height="2.1" fill="#26a69a"/>
<rect x="330.10" y="390.3" width="1.5" height="62.4" fill="#26a69a"/>
<rect x="327.75" y="410.5" width="6.2" height="29.3" fill="#26a69a"/>
<rect x="337.75" y="395.8" width="1.5" height="29.8" fill="#26a69a"/>
<rect x="335.40" y="407.0" width="6.2" height="3.8" fill="#26a69a"/>
<rect x="345.40" y="384.0" width="1.5" height="44.4" fill="#26a69a"/>
<rect x="343.05" y="405.2" width="6.2" height="2.8" fill="#26a69a"/>
<rect x="353.04" y="384.0" width="1.5" height="27.6" fill="#26a69a"/>
<rect x="350.69" y="395.1" width="6.2" height="11.9" fill="#26a69a"/>
<rect x="360.69" y="395.8" width="1.5" height="45.2" fill="#ef5350"/>
<rect x="358.34" y="395.8" width="6.2" height="23.4" fill="#ef5350"/>
<rect x="368.34" y="418.6" width="1.5" height="38.0" fill="#ef5350"/>
<rect x="365.99" y="418.6" width="6.2" height="24.0" fill="#ef5350"/>
<rect x="375.98" y="415.0" width="1.5" height="47.9" fill="#26a69a"/>
<rect x="373.63" y="436.3" width="6.2" height="7.4" fill="#26a69a"/>
<rect x="383.63" y="438.2" width="1.5" height="30.7" fill="#ef5350"/>
<rect x="381.28" y="438.2" width="6.2" height="13.5" fill="#ef5350"/>
<rect x="391.27" y="423.8" width="1.5" height="29.7" fill="#26a69a"/>
<rect x="388.92" y="451.0" width="6.2" height="2.5" fill="#26a69a"/>
<rect x="398.92" y="428.0" width="1.5" height="31.6" fill="#ef5350"/>
<rect x="396.57" y="451.0" width="6.2" height="4.3" fill="#ef5350"/>
<rect x="406.57" y="449.9" width="1.5" height="40.3" fill="#ef5350"/>
<rect x="404.22" y="455.3" width="6.2" height="12.4" fill="#ef5350"/>
<rect x="414.21" y="446.0" width="1.5" height="30.4" fill="#26a69a"/>
<rect x="411.86" y="462.0" width="6.2" height="5.7" fill="#26a69a"/>
<rect x="421.86" y="431.3" width="1.5" height="30.1" fill="#26a69a"/>
<rect x="419.51" y="440.3" width="6.2" height="20.7" fill="#26a69a"/>
<rect x="429.51" y="415.0" width="1.5" height="29.1" fill="#26a69a"/>
<rect x="427.16" y="435.1" width="6.2" height="5.8" fill="#26a69a"/>
<rect x="437.15" y="419.8" width="1.5" height="32.6" fill="#26a69a"/>
<rect x="434.80" y="428.0" width="6.2" height="7.1" fill="#26a69a"/>
<rect x="444.80" y="415.0" width="1.5" height="24.5" fill="#ef5350"/>
<rect x="442.45" y="428.0" width="6.2" height="6.1" fill="#ef5350"/>
<rect x="452.45" y="394.2" width="1.5" height="49.9" fill="#26a69a"/>
<rect x="450.10" y="430.7" width="6.2" height="4.4" fill="#26a69a"/>
<rect x="460.09" y="427.4" width="1.5" height="23.6" fill="#ef5350"/>
<rect x="457.74" y="429.9" width="6.2" height="3.9" fill="#ef5350"/>
<rect x="467.74" y="433.8" width="1.5" height="121.7" fill="#ef5350"/>
<rect x="465.39" y="433.8" width="6.2" height="47.9" fill="#ef5350"/>
<rect x="475.39" y="465.2" width="1.5" height="37.1" fill="#ef5350"/>
<rect x="473.04" y="481.2" width="6.2" height="7.1" fill="#ef5350"/>
<rect x="483.03" y="468.3" width="1.5" height="67.2" fill="#ef5350"/>
<rect x="480.68" y="488.3" width="6.2" height="39.5" fill="#ef5350"/>
<rect x="490.68" y="514.4" width="1.5" height="87.7" fill="#ef5350"/>
<rect x="488.33" y="527.8" width="6.2" height="37.2" fill="#ef5350"/>
<rect x="498.33" y="533.6" width="1.5" height="63.3" fill="#26a69a"/>
<rect x="495.98" y="539.7" width="6.2" height="24.0" fill="#26a69a"/>
<rect x="505.97" y="520.5" width="1.5" height="38.5" fill="#26a69a"/>
<rect x="503.62" y="525.0" width="6.2" height="17.0" fill="#26a69a"/>
<rect x="513.62" y="513.1" width="1.5" height="24.7" fill="#26a69a"/>
<rect x="511.27" y="519.9" width="6.2" height="8.2" fill="#26a69a"/>
<rect x="521.27" y="512.2" width="1.5" height="43.4" fill="#26a69a"/>
<rect x="518.92" y="513.7" width="6.2" height="5.6" fill="#26a69a"/>
<rect x="528.91" y="512.5" width="1.5" height="47.1" fill="#ef5350"/>
<rect x="526.56" y="512.5" width="6.2" height="39.4" fill="#ef5350"/>
<rect x="536.56" y="524.7" width="1.5" height="39.5" fill="#26a69a"/>
<rect x="534.21" y="526.2" width="6.2" height="25.7" fill="#26a69a"/>
<rect x="544.21" y="513.1" width="1.5" height="20.7" fill="#26a69a"/>
<rect x="541.86" y="514.5" width="6.2" height="11.7" fill="#26a69a"/>
<rect x="551.85" y="508.6" width="1.5" height="30.4" fill="#ef5350"/>
<rect x="549.50" y="514.8" width="6.2" height="22.1" fill="#ef5350"/>
<rect x="559.50" y="523.3" width="1.5" height="61.3" fill="#ef5350"/>
<rect x="557.15" y="536.9" width="6.2" height="32.9" fill="#ef5350"/>
<rect x="567.14" y="551.9" width="1.5" height="31.0" fill="#ef5350"/>
<rect x="564.79" y="570.7" width="6.2" height="3.1" fill="#ef5350"/>
<rect x="574.79" y="537.8" width="1.5" height="34.9" fill="#26a69a"/>
<rect x="572.44" y="539.0" width="6.2" height="33.7" fill="#26a69a"/>
<rect x="582.44" y="490.2" width="1.5" height="53.3" fill="#26a69a"/>
<rect x="580.09" y="502.3" width="6.2" height="39.4" fill="#26a69a"/>
<rect x="590.08" y="487.2" width="1.5" height="62.8" fill="#ef5350"/>
<rect x="587.73" y="500.1" width="6.2" height="41.6" fill="#ef5350"/>
<rect x="597.73" y="526.5" width="1.5" height="28.0" fill="#ef5350"/>
<rect x="595.38" y="542.0" width="6.2" height="5.7" fill="#ef5350"/>
<rect x="605.38" y="531.3" width="1.5" height="29.5" fill="#ef5350"/>
<rect x="603.03" y="544.3" width="6.2" height="6.5" fill="#ef5350"/>
<rect x="613.02" y="518.2" width="1.5" height="33.3" fill="#26a69a"/>
<rect x="610.67" y="541.2" width="6.2" height="10.3" fill="#26a69a"/>
<rect x="620.67" y="521.3" width="1.5" height="34.0" fill="#26a69a"/>
<rect x="618.32" y="524.5" width="6.2" height="17.5" fill="#26a69a"/>
<rect x="628.32" y="492.4" width="1.5" height="46.9" fill="#26a69a"/>
<rect x="625.97" y="497.1" width="6.2" height="26.2" fill="#26a69a"/>
<rect x="635.96" y="448.7" width="1.5" height="56.8" fill="#26a69a"/>
<rect x="633.61" y="453.1" width="6.2" height="44.5" fill="#26a69a"/>
<rect x="643.61" y="440.0" width="1.5" height="37.5" fill="#ef5350"/>
<rect x="641.26" y="454.0" width="6.2" height="11.7" fill="#ef5350"/>
<rect x="651.26" y="434.3" width="1.5" height="31.0" fill="#26a69a"/>
<rect x="648.91" y="439.1" width="6.2" height="26.2" fill="#26a69a"/>
<rect x="658.90" y="333.6" width="1.5" height="104.7" fill="#26a69a"/>
<rect x="656.55" y="384.7" width="6.2" height="53.6" fill="#26a69a"/>
<rect x="666.55" y="348.7" width="1.5" height="50.7" fill="#26a69a"/>
<rect x="664.20" y="363.2" width="6.2" height="20.4" fill="#26a69a"/>
<rect x="674.20" y="346.3" width="1.5" height="34.4" fill="#26a69a"/>
<rect x="671.85" y="357.1" width="6.2" height="6.7" fill="#26a69a"/>
<rect x="681.84" y="342.3" width="1.5" height="51.1" fill="#ef5350"/>
<rect x="679.49" y="357.1" width="6.2" height="23.6" fill="#ef5350"/>
<rect x="689.49" y="377.2" width="1.5" height="41.0" fill="#ef5350"/>
<rect x="687.14" y="380.7" width="6.2" height="11.0" fill="#ef5350"/>
<rect x="697.13" y="354.0" width="1.5" height="40.1" fill="#26a69a"/>
<rect x="694.78" y="375.4" width="6.2" height="16.6" fill="#26a69a"/>
<rect x="704.78" y="354.0" width="1.5" height="27.6" fill="#26a69a"/>
<rect x="702.43" y="369.0" width="6.2" height="7.0" fill="#26a69a"/>
<rect x="712.43" y="322.2" width="1.5" height="89.9" fill="#ef5350"/>
<rect x="710.08" y="371.4" width="6.2" height="38.4" fill="#ef5350"/>
<rect x="720.07" y="392.9" width="1.5" height="48.9" fill="#ef5350"/>
<rect x="717.72" y="409.1" width="6.2" height="12.6" fill="#ef5350"/>
<rect x="727.72" y="372.0" width="1.5" height="47.6" fill="#26a69a"/>
<rect x="725.37" y="373.2" width="6.2" height="46.4" fill="#26a69a"/>
<rect x="735.37" y="352.2" width="1.5" height="29.0" fill="#26a69a"/>
<rect x="733.02" y="361.0" width="6.2" height="12.5" fill="#26a69a"/>
<rect x="743.01" y="305.7" width="1.5" height="66.5" fill="#ef5350"/>
<rect x="740.66" y="357.3" width="6.2" height="3.3" fill="#ef5350"/>
<rect x="750.66" y="329.4" width="1.5" height="45.0" fill="#26a69a"/>
<rect x="748.31" y="331.4" width="6.2" height="28.6" fill="#26a69a"/>
<rect x="758.31" y="334.3" width="1.5" height="37.9" fill="#ef5350"/>
<rect x="755.96" y="334.3" width="6.2" height="27.8" fill="#ef5350"/>
<rect x="765.95" y="358.0" width="1.5" height="33.4" fill="#ef5350"/>
<rect x="763.60" y="362.1" width="6.2" height="18.7" fill="#ef5350"/>
<rect x="773.60" y="380.8" width="1.5" height="40.0" fill="#ef5350"/>
<rect x="771.25" y="380.8" width="6.2" height="15.1" fill="#ef5350"/>
<rect x="781.25" y="384.3" width="1.5" height="24.6" fill="#26a69a"/>
<rect x="778.90" y="398.6" width="6.2" height="1.7" fill="#26a69a"/>
<rect x="788.89" y="382.2" width="1.5" height="43.1" fill="#26a69a"/>
<rect x="786.54" y="390.7" width="6.2" height="7.9" fill="#26a69a"/>
<rect x="796.54" y="385.8" width="1.5" height="32.6" fill="#ef5350"/>
<rect x="794.19" y="390.7" width="6.2" height="3.4" fill="#ef5350"/>
<rect x="804.19" y="372.9" width="1.5" height="34.9" fill="#ef5350"/>
<rect x="801.84" y="395.1" width="6.2" height="9.7" fill="#ef5350"/>
<rect x="811.83" y="389.2" width="1.5" height="21.5" fill="#26a69a"/>
<rect x="809.48" y="392.2" width="6.2" height="12.6" fill="#26a69a"/>
<rect x="819.48" y="371.4" width="1.5" height="21.2" fill="#26a69a"/>
<rect x="817.13" y="390.3" width="6.2" height="2.3" fill="#26a69a"/>
<rect x="827.13" y="357.3" width="1.5" height="38.6" fill="#26a69a"/>
<rect x="824.78" y="378.8" width="6.2" height="11.2" fill="#26a69a"/>
<rect x="834.77" y="358.0" width="1.5" height="36.1" fill="#26a69a"/>
<rect x="832.42" y="373.3" width="6.2" height="5.5" fill="#26a69a"/>
<rect x="842.42" y="348.7" width="1.5" height="25.2" fill="#26a69a"/>
<rect x="840.07" y="363.5" width="6.2" height="10.4" fill="#26a69a"/>
<rect x="850.07" y="363.5" width="1.5" height="94.4" fill="#ef5350"/>
<rect x="847.72" y="363.5" width="6.2" height="71.3" fill="#ef5350"/>
<rect x="857.71" y="400.7" width="1.5" height="36.1" fill="#26a69a"/>
<rect x="855.36" y="407.5" width="6.2" height="29.3" fill="#26a69a"/>
<rect x="865.36" y="358.1" width="1.5" height="51.3" fill="#26a69a"/>
<rect x="863.01" y="378.7" width="6.2" height="29.3" fill="#26a69a"/>
<rect x="873.00" y="361.6" width="1.5" height="25.8" fill="#26a69a"/>
<rect x="870.65" y="371.0" width="6.2" height="7.7" fill="#26a69a"/>
<rect x="880.65" y="366.4" width="1.5" height="52.1" fill="#ef5350"/>
<rect x="878.30" y="371.0" width="6.2" height="26.9" fill="#ef5350"/>
<rect x="888.30" y="386.3" width="1.5" height="19.3" fill="#26a69a"/>
<rect x="885.95" y="394.9" width="6.2" height="3.0" fill="#26a69a"/>
<rect x="895.94" y="374.5" width="1.5" height="28.0" fill="#26a69a"/>
<rect x="893.59" y="378.0" width="6.2" height="18.5" fill="#26a69a"/>
<rect x="903.59" y="348.3" width="1.5" height="31.1" fill="#26a69a"/>
<rect x="901.24" y="362.7" width="6.2" height="14.6" fill="#26a69a"/>
<rect x="911.24" y="357.0" width="1.5" height="19.6" fill="#ef5350"/>
<rect x="908.89" y="361.9" width="6.2" height="1.8" fill="#ef5350"/>
<rect x="918.88" y="360.4" width="1.5" height="41.9" fill="#ef5350"/>
<rect x="916.53" y="361.6" width="6.2" height="32.1" fill="#ef5350"/>
<rect x="926.53" y="377.6" width="1.5" height="20.5" fill="#26a69a"/>
<rect x="924.18" y="384.2" width="6.2" height="7.6" fill="#26a69a"/>
<rect x="934.18" y="366.1" width="1.5" height="20.2" fill="#26a69a"/>
<rect x="931.83" y="375.5" width="6.2" height="10.0" fill="#26a69a"/>
<rect x="941.82" y="358.5" width="1.5" height="24.4" fill="#26a69a"/>
<rect x="939.47" y="365.1" width="6.2" height="10.1" fill="#26a69a"/>
<rect x="949.47" y="348.0" width="1.5" height="23.7" fill="#ef5350"/>
<rect x="947.12" y="363.7" width="6.2" height="1.5" fill="#ef5350"/>
<rect x="957.12" y="359.5" width="1.5" height="16.4" fill="#26a69a"/>
<rect x="954.77" y="359.5" width="6.2" height="4.8" fill="#26a69a"/>
<rect x="964.76" y="359.8" width="1.5" height="26.7" fill="#ef5350"/>
<rect x="962.41" y="360.2" width="6.2" height="1.5" fill="#ef5350"/>
<rect x="972.41" y="359.8" width="1.5" height="23.1" fill="#ef5350"/>
<rect x="970.06" y="361.2" width="6.2" height="7.8" fill="#ef5350"/>
<rect x="980.06" y="365.5" width="1.5" height="45.2" fill="#ef5350"/>
<rect x="977.71" y="369.5" width="6.2" height="41.2" fill="#ef5350"/>
<rect x="987.70" y="382.4" width="1.5" height="49.0" fill="#26a69a"/>
<rect x="985.35" y="384.8" width="6.2" height="26.7" fill="#26a69a"/>
<rect x="995.35" y="377.8" width="1.5" height="30.8" fill="#ef5350"/>
<rect x="993.00" y="385.4" width="6.2" height="15.5" fill="#ef5350"/>
<rect x="1003.00" y="397.4" width="1.5" height="66.0" fill="#ef5350"/>
<rect x="1000.64" y="400.5" width="6.2" height="41.2" fill="#ef5350"/>
<rect x="1010.64" y="413.1" width="1.5" height="47.5" fill="#26a69a"/>
<rect x="1008.29" y="437.2" width="6.2" height="3.5" fill="#26a69a"/>
<rect x="1018.29" y="401.1" width="1.5" height="59.9" fill="#26a69a"/>
<rect x="1015.94" y="418.9" width="6.2" height="19.9" fill="#26a69a"/>
<rect x="1025.93" y="406.1" width="1.5" height="30.6" fill="#26a69a"/>
<rect x="1023.58" y="413.4" width="6.2" height="7.4" fill="#26a69a"/>
<rect x="1033.58" y="409.5" width="1.5" height="21.9" fill="#26a69a"/>
<rect x="1031.23" y="414.2" width="6.2" height="1.5" fill="#26a69a"/>
<rect x="1041.23" y="395.3" width="1.5" height="21.0" fill="#26a69a"/>
<rect x="1038.88" y="407.4" width="6.2" height="8.9" fill="#26a69a"/>
<rect x="1048.87" y="392.2" width="1.5" height="27.2" fill="#26a69a"/>
<rect x="1046.52" y="404.2" width="6.2" height="3.2" fill="#26a69a"/>
<rect x="1056.52" y="403.4" width="1.5" height="24.1" fill="#ef5350"/>
<rect x="1054.17" y="404.2" width="6.2" height="19.7" fill="#ef5350"/>
<rect x="1064.17" y="411.3" width="1.5" height="15.7" fill="#ef5350"/>
<rect x="1061.82" y="420.8" width="6.2" height="3.1" fill="#ef5350"/>
<rect x="1071.81" y="407.1" width="1.5" height="21.2" fill="#26a69a"/>
<rect x="1069.46" y="418.0" width="6.2" height="6.6" fill="#26a69a"/>
<rect x="1079.46" y="412.8" width="1.5" height="19.7" fill="#26a69a"/>
<rect x="1077.11" y="415.2" width="6.2" height="3.2" fill="#26a69a"/>
<rect x="1087.11" y="390.8" width="1.5" height="38.3" fill="#26a69a"/>
<rect x="1084.76" y="405.3" width="6.2" height="10.2" fill="#26a69a"/>
<rect x="1094.75" y="396.9" width="1.5" height="23.2" fill="#ef5350"/>
<rect x="1092.40" y="406.1" width="6.2" height="1.5" fill="#ef5350"/>
<rect x="1102.40" y="395.4" width="1.5" height="15.6" fill="#26a69a"/>
<rect x="1100.05" y="402.2" width="6.2" height="5.7" fill="#26a69a"/>
<rect x="1110.05" y="373.2" width="1.5" height="38.8" fill="#26a69a"/>
<rect x="1107.70" y="378.5" width="6.2" height="22.2" fill="#26a69a"/>
<rect x="1117.69" y="372.3" width="1.5" height="24.1" fill="#ef5350"/>
<rect x="1115.34" y="378.8" width="6.2" height="6.9" fill="#ef5350"/>
<rect x="1125.34" y="376.2" width="1.5" height="16.3" fill="#ef5350"/>
<rect x="1122.99" y="385.4" width="6.2" height="4.2" fill="#ef5350"/>
<rect x="1132.99" y="382.4" width="1.5" height="16.1" fill="#ef5350"/>
<rect x="1130.64" y="386.7" width="6.2" height="11.0" fill="#ef5350"/>
<rect x="1140.63" y="377.1" width="1.5" height="21.4" fill="#26a69a"/>
<rect x="1138.28" y="381.7" width="6.2" height="13.8" fill="#26a69a"/>
<rect x="1148.28" y="308.7" width="1.5" height="76.3" fill="#26a69a"/>
<rect x="1145.93" y="308.7" width="6.2" height="72.4" fill="#26a69a"/>
<rect x="1155.92" y="286.4" width="1.5" height="44.0" fill="#ef5350"/>
<rect x="1153.58" y="308.7" width="6.2" height="8.6" fill="#ef5350"/>
<rect x="1163.57" y="299.3" width="1.5" height="29.0" fill="#ef5350"/>
<rect x="1161.22" y="317.6" width="6.2" height="1.6" fill="#ef5350"/>
<rect x="1171.22" y="303.2" width="1.5" height="33.4" fill="#ef5350"/>
<rect x="1168.87" y="316.9" width="6.2" height="2.7" fill="#ef5350"/>
<rect x="1178.86" y="296.6" width="1.5" height="30.8" fill="#26a69a"/>
<rect x="1176.51" y="297.3" width="6.2" height="23.6" fill="#26a69a"/>
<rect x="1186.51" y="285.9" width="1.5" height="22.8" fill="#ef5350"/>
<rect x="1184.16" y="298.2" width="6.2" height="5.6" fill="#ef5350"/>
<rect x="1194.16" y="298.0" width="1.5" height="20.9" fill="#ef5350"/>
<rect x="1191.81" y="301.6" width="6.2" height="1.9" fill="#ef5350"/>
<rect x="1201.80" y="268.1" width="1.5" height="37.7" fill="#26a69a"/>
<rect x="1199.45" y="281.2" width="6.2" height="22.6" fill="#26a69a"/>
<rect x="1209.45" y="274.1" width="1.5" height="54.0" fill="#ef5350"/>
<rect x="1207.10" y="281.2" width="6.2" height="36.1" fill="#ef5350"/>
<rect x="1217.10" y="300.2" width="1.5" height="33.0" fill="#26a69a"/>
<rect x="1214.75" y="316.0" width="6.2" height="1.5" fill="#26a69a"/>
<rect x="1224.74" y="307.4" width="1.5" height="44.1" fill="#ef5350"/>
<rect x="1222.39" y="317.9" width="6.2" height="10.1" fill="#ef5350"/>
<rect x="1232.39" y="298.3" width="1.5" height="38.1" fill="#26a69a"/>
<rect x="1230.04" y="302.4" width="6.2" height="24.9" fill="#26a69a"/>
<rect x="1240.04" y="298.0" width="1.5" height="29.3" fill="#ef5350"/>
<rect x="1237.69" y="302.4" width="6.2" height="23.0" fill="#ef5350"/>
<rect x="1247.68" y="313.4" width="1.5" height="23.0" fill="#26a69a"/>
<rect x="1245.33" y="318.5" width="6.2" height="8.2" fill="#26a69a"/>
<rect x="1255.33" y="308.4" width="1.5" height="24.4" fill="#ef5350"/>
<rect x="1252.98" y="317.6" width="6.2" height="3.1" fill="#ef5350"/>
<rect x="1262.98" y="303.5" width="1.5" height="23.2" fill="#26a69a"/>
<rect x="1260.63" y="309.0" width="6.2" height="15.3" fill="#26a69a"/>
<rect x="1270.62" y="301.6" width="1.5" height="14.7" fill="#ef5350"/>
<rect x="1268.27" y="307.9" width="6.2" height="4.7" fill="#ef5350"/>
<rect x="1278.27" y="288.2" width="1.5" height="30.3" fill="#26a69a"/>
<rect x="1275.92" y="301.1" width="6.2" height="12.8" fill="#26a69a"/>
<rect x="1285.92" y="299.2" width="1.5" height="30.6" fill="#ef5350"/>
<rect x="1283.57" y="301.6" width="6.2" height="22.7" fill="#ef5350"/>
<rect x="1293.56" y="302.9" width="1.5" height="30.6" fill="#26a69a"/>
<rect x="1291.21" y="316.3" width="6.2" height="10.4" fill="#26a69a"/>
<rect x="1301.21" y="314.5" width="1.5" height="65.4" fill="#ef5350"/>
<rect x="1298.86" y="317.6" width="6.2" height="37.5" fill="#ef5350"/>
<rect x="1308.86" y="344.1" width="1.5" height="132.3" fill="#ef5350"/>
<rect x="1306.51" y="357.0" width="6.2" height="59.5" fill="#ef5350"/>
<rect x="1316.50" y="390.9" width="1.5" height="41.6" fill="#26a69a"/>
<rect x="1314.15" y="406.4" width="6.2" height="10.1" fill="#26a69a"/>
<rect x="1324.15" y="406.4" width="1.5" height="49.2" fill="#ef5350"/>
<rect x="1321.80" y="406.4" width="6.2" height="14.7" fill="#ef5350"/>
<rect x="1331.79" y="412.9" width="1.5" height="32.9" fill="#ef5350"/>
<rect x="1329.44" y="422.0" width="6.2" height="4.2" fill="#ef5350"/>
<rect x="1339.44" y="403.4" width="1.5" height="28.6" fill="#26a69a"/>
<rect x="1337.09" y="418.0" width="6.2" height="10.0" fill="#26a69a"/>
<rect x="1347.09" y="390.6" width="1.5" height="30.9" fill="#26a69a"/>
<rect x="1344.74" y="396.5" width="6.2" height="25.0" fill="#26a69a"/>
<rect x="1354.73" y="370.2" width="1.5" height="38.3" fill="#26a69a"/>
<rect x="1352.38" y="378.4" width="6.2" height="18.7" fill="#26a69a"/>
<rect x="1362.38" y="372.7" width="1.5" height="27.2" fill="#ef5350"/>
<rect x="1360.03" y="380.4" width="6.2" height="4.5" fill="#ef5350"/>
<rect x="1370.03" y="359.6" width="1.5" height="35.9" fill="#26a69a"/>
<rect x="1367.68" y="366.0" width="6.2" height="18.5" fill="#26a69a"/>
<rect x="1377.67" y="358.0" width="1.5" height="19.9" fill="#ef5350"/>
<rect x="1375.32" y="366.0" width="6.2" height="3.0" fill="#ef5350"/>
<rect x="1385.32" y="354.4" width="1.5" height="36.6" fill="#26a69a"/>
<rect x="1382.97" y="359.9" width="6.2" height="5.5" fill="#26a69a"/>
<rect x="1392.97" y="346.2" width="1.5" height="22.8" fill="#26a69a"/>
<rect x="1390.62" y="359.2" width="6.2" height="1.6" fill="#26a69a"/>
<rect x="1400.61" y="349.5" width="1.5" height="37.8" fill="#ef5350"/>
<rect x="1398.26" y="359.9" width="6.2" height="21.9" fill="#ef5350"/>
<rect x="1408.26" y="359.2" width="1.5" height="23.6" fill="#26a69a"/>
<rect x="1405.91" y="361.1" width="6.2" height="21.7" fill="#26a69a"/>
<rect x="1415.91" y="329.3" width="1.5" height="32.0" fill="#26a69a"/>
<rect x="1413.56" y="333.2" width="6.2" height="28.1" fill="#26a69a"/>
<rect x="1423.55" y="316.1" width="1.5" height="21.2" fill="#26a69a"/>
<rect x="1421.20" y="329.6" width="6.2" height="3.6" fill="#26a69a"/>
<rect x="1431.20" y="322.2" width="1.5" height="18.7" fill="#ef5350"/>
<rect x="1428.85" y="328.7" width="6.2" height="12.2" fill="#ef5350"/>
<rect x="1438.85" y="317.7" width="1.5" height="20.8" fill="#26a69a"/>
<rect x="1436.50" y="322.2" width="6.2" height="16.3" fill="#26a69a"/>
<rect x="1446.49" y="315.3" width="1.5" height="17.9" fill="#ef5350"/>
<rect x="1444.14" y="322.6" width="6.2" height="5.3" fill="#ef5350"/>
<rect x="1454.14" y="318.3" width="1.5" height="33.6" fill="#ef5350"/>
<rect x="1451.79" y="327.9" width="6.2" height="23.2" fill="#ef5350"/>
<rect x="1461.79" y="340.3" width="1.5" height="40.2" fill="#26a69a"/>
<rect x="1459.44" y="343.3" width="6.2" height="5.7" fill="#26a69a"/>
<rect x="1469.43" y="333.7" width="1.5" height="35.2" fill="#ef5350"/>
<rect x="1467.08" y="344.5" width="6.2" height="18.5" fill="#ef5350"/>
<rect x="1477.08" y="362.5" width="1.5" height="50.6" fill="#ef5350"/>
<rect x="1474.73" y="362.5" width="6.2" height="13.9" fill="#ef5350"/>
<rect x="1484.72" y="342.7" width="1.5" height="37.2" fill="#26a69a"/>
<rect x="1482.37" y="344.1" width="6.2" height="33.6" fill="#26a69a"/>
<rect x="1492.37" y="323.2" width="1.5" height="26.5" fill="#26a69a"/>
<rect x="1490.02" y="334.5" width="6.2" height="7.9" fill="#26a69a"/>
<rect x="1500.02" y="275.2" width="1.5" height="62.3" fill="#26a69a"/>
<rect x="1497.67" y="275.2" width="6.2" height="61.1" fill="#26a69a"/>
<rect x="1507.66" y="256.5" width="1.5" height="49.3" fill="#ef5350"/>
<rect x="1505.31" y="275.2" width="6.2" height="12.2" fill="#ef5350"/>
<rect x="1515.31" y="280.4" width="1.5" height="25.7" fill="#ef5350"/>
<rect x="1512.96" y="288.3" width="6.2" height="9.1" fill="#ef5350"/>
<rect x="1522.96" y="292.7" width="1.5" height="37.1" fill="#ef5350"/>
<rect x="1520.61" y="297.4" width="6.2" height="8.0" fill="#ef5350"/>
<rect x="1530.60" y="290.4" width="1.5" height="35.9" fill="#26a69a"/>
<rect x="1528.25" y="297.4" width="6.2" height="8.0" fill="#26a69a"/>
<rect x="1538.25" y="288.0" width="1.5" height="23.9" fill="#26a69a"/>
<rect x="1535.90" y="290.4" width="6.2" height="5.8" fill="#26a69a"/>
<rect x="1545.90" y="288.3" width="1.5" height="23.6" fill="#ef5350"/>
<rect x="1543.55" y="290.0" width="6.2" height="1.8" fill="#ef5350"/>
<rect x="1553.54" y="285.7" width="1.5" height="33.1" fill="#ef5350"/>
<rect x="1551.19" y="291.4" width="6.2" height="13.5" fill="#ef5350"/>
<rect x="1561.19" y="300.2" width="1.5" height="22.7" fill="#ef5350"/>
<rect x="1558.84" y="305.4" width="6.2" height="5.6" fill="#ef5350"/>
<rect x="1568.84" y="222.0" width="1.5" height="118.3" fill="#26a69a"/>
<rect x="1566.49" y="274.3" width="6.2" height="37.6" fill="#26a69a"/>
<rect x="1576.48" y="264.0" width="1.5" height="51.8" fill="#ef5350"/>
<rect x="1574.13" y="274.6" width="6.2" height="41.2" fill="#ef5350"/>
<rect x="1584.13" y="281.1" width="1.5" height="43.3" fill="#26a69a"/>
<rect x="1581.78" y="289.9" width="6.2" height="21.4" fill="#26a69a"/>
<rect x="1591.78" y="277.4" width="1.5" height="32.1" fill="#ef5350"/>
<rect x="1589.43" y="291.3" width="6.2" height="15.4" fill="#ef5350"/>
<rect x="1599.42" y="290.4" width="1.5" height="66.2" fill="#ef5350"/>
<rect x="1597.07" y="306.3" width="6.2" height="47.2" fill="#ef5350"/>
<rect x="1607.07" y="327.0" width="1.5" height="26.5" fill="#26a69a"/>
<rect x="1604.72" y="346.8" width="6.2" height="6.7" fill="#26a69a"/>
<rect x="1614.71" y="320.3" width="1.5" height="53.0" fill="#26a69a"/>
<rect x="1612.37" y="324.2" width="6.2" height="22.6" fill="#26a69a"/>
<rect x="1622.36" y="316.0" width="1.5" height="22.8" fill="#ef5350"/>
<rect x="1620.01" y="324.2" width="6.2" height="5.8" fill="#ef5350"/>
<rect x="1630.01" y="314.4" width="1.5" height="34.2" fill="#26a69a"/>
<rect x="1627.66" y="316.0" width="6.2" height="14.0" fill="#26a69a"/>
<rect x="1637.65" y="314.7" width="1.5" height="26.2" fill="#ef5350"/>
<rect x="1635.30" y="316.9" width="6.2" height="11.7" fill="#ef5350"/>
<rect x="1645.30" y="296.5" width="1.5" height="40.0" fill="#26a69a"/>
<rect x="1642.95" y="299.7" width="6.2" height="29.3" fill="#26a69a"/>
<rect x="1652.95" y="290.4" width="1.5" height="19.1" fill="#26a69a"/>
<rect x="1650.60" y="297.3" width="6.2" height="2.4" fill="#26a69a"/>
<rect x="1660.59" y="277.0" width="1.5" height="28.3" fill="#ef5350"/>
<rect x="1658.24" y="299.0" width="6.2" height="4.9" fill="#ef5350"/>
<rect x="1668.24" y="284.4" width="1.5" height="27.5" fill="#26a69a"/>
<rect x="1665.89" y="290.9" width="6.2" height="14.4" fill="#26a69a"/>
<rect x="1675.89" y="241.1" width="1.5" height="49.5" fill="#26a69a"/>
<rect x="1673.54" y="271.1" width="6.2" height="19.5" fill="#26a69a"/>
<rect x="1683.53" y="265.2" width="1.5" height="28.0" fill="#ef5350"/>
<rect x="1681.18" y="269.7" width="6.2" height="2.1" fill="#ef5350"/>
<rect x="1691.18" y="255.4" width="1.5" height="43.6" fill="#ef5350"/>
<rect x="1688.83" y="270.4" width="6.2" height="15.4" fill="#ef5350"/>
<rect x="1698.83" y="266.2" width="1.5" height="26.1" fill="#26a69a"/>
<rect x="1696.48" y="267.6" width="6.2" height="20.9" fill="#26a69a"/>
<rect x="1706.47" y="216.9" width="1.5" height="54.7" fill="#26a69a"/>
<rect x="1704.12" y="221.2" width="6.2" height="45.1" fill="#26a69a"/>
<rect x="1714.12" y="189.1" width="1.5" height="51.4" fill="#26a69a"/>
<rect x="1711.77" y="192.2" width="6.2" height="29.5" fill="#26a69a"/>
<rect x="1721.77" y="186.5" width="1.5" height="35.2" fill="#ef5350"/>
<rect x="1719.42" y="194.2" width="6.2" height="4.6" fill="#ef5350"/>
<rect x="1729.41" y="165.0" width="1.5" height="34.3" fill="#26a69a"/>
<rect x="1727.06" y="177.2" width="6.2" height="20.7" fill="#26a69a"/>
<rect x="1737.06" y="167.9" width="1.5" height="28.6" fill="#ef5350"/>
<rect x="1734.71" y="175.5" width="6.2" height="14.2" fill="#ef5350"/>
<rect x="1744.71" y="165.7" width="1.5" height="27.6" fill="#ef5350"/>
<rect x="1742.36" y="188.6" width="6.2" height="1.5" fill="#ef5350"/>
<rect x="1752.35" y="179.3" width="1.5" height="12.4" fill="#ef5350"/>
<rect x="1750.00" y="188.0" width="6.2" height="1.7" fill="#ef5350"/>
<line x1="11" y1="189.2" x2="1937" y2="189.2" stroke="#ef5350" stroke-width="1.7" stroke-dasharray="1.7 2.84"/>
</g>
<g fill="#62656f">
<rect x="9" y="65" width="2030" height="2"/>
<rect x="9" y="65" width="2" height="1026"/>
<rect x="2037" y="65" width="2" height="1026"/>
<rect x="9" y="1089" width="2030" height="2"/>
<rect x="9" y="1045.5" width="2030" height="2"/>
<rect x="1937" y="65" width="2" height="1026"/>
<rect x="1939" y="100.25" width="5.3" height="1.5"/>
<rect x="1939" y="149.85" width="5.3" height="1.5"/>
<rect x="1939" y="200.85" width="5.3" height="1.5"/>
<rect x="1939" y="252.15" width="5.3" height="1.5"/>
<rect x="1939" y="304.65" width="5.3" height="1.5"/>
<rect x="1939" y="358.55" width="5.3" height="1.5"/>
<rect x="1939" y="413.85" width="5.3" height="1.5"/>
<rect x="1939" y="469.45" width="5.3" height="1.5"/>
<rect x="1939" y="527.25" width="5.3" height="1.5"/>
<rect x="1939" y="573.45" width="5.3" height="1.5"/>
<rect x="1939" y="621.75" width="5.3" height="1.5"/>
<rect x="1939" y="670.25" width="5.3" height="1.5"/>
<rect x="1939" y="719.55" width="5.3" height="1.5"/>
<rect x="1939" y="766.55" width="5.3" height="1.5"/>
<rect x="1939" y="818.75" width="5.3" height="1.5"/>
<rect x="1939" y="871.05" width="5.3" height="1.5"/>
<rect x="1939" y="924.05" width="5.3" height="1.5"/>
<rect x="1939" y="971.85" width="5.3" height="1.5"/>
<rect x="1939" y="1020.35" width="5.3" height="1.5"/>
<rect x="192.47" y="1047.5" width="1.5" height="4.5"/>
<rect x="375.98" y="1047.5" width="1.5" height="4.5"/>
<rect x="559.50" y="1047.5" width="1.5" height="4.5"/>
<rect x="743.01" y="1047.5" width="1.5" height="4.5"/>
<rect x="926.53" y="1047.5" width="1.5" height="4.5"/>
<rect x="1110.05" y="1047.5" width="1.5" height="4.5"/>
<rect x="1293.56" y="1047.5" width="1.5" height="4.5"/>
<rect x="1477.08" y="1047.5" width="1.5" height="4.5"/>
<rect x="1660.59" y="1047.5" width="1.5" height="4.5"/>
<rect x="1844.11" y="1047.5" width="1.5" height="4.5"/>
</g>
<g font-family="Liberation Sans, sans-serif" font-size="18" fill="#50535e" stroke="#50535e" stroke-width="0.35">
<text x="1950.7" y="108.7" textLength="73" lengthAdjust="spacingAndGlyphs">53000.00</text>
<text x="1950.7" y="158.3" textLength="73" lengthAdjust="spacingAndGlyphs">52000.00</text>
<text x="1950.7" y="209.3" textLength="73" lengthAdjust="spacingAndGlyphs">51000.00</text>
<text x="1950.7" y="260.6" textLength="73" lengthAdjust="spacingAndGlyphs">50000.00</text>
<text x="1950.7" y="313.1" textLength="73" lengthAdjust="spacingAndGlyphs">49000.00</text>
<text x="1950.7" y="367.0" textLength="73" lengthAdjust="spacingAndGlyphs">48000.00</text>
<text x="1950.7" y="422.3" textLength="73" lengthAdjust="spacingAndGlyphs">47000.00</text>
<text x="1950.7" y="477.9" textLength="73" lengthAdjust="spacingAndGlyphs">46000.00</text>
<text x="1950.7" y="535.7" textLength="73" lengthAdjust="spacingAndGlyphs">45000.00</text>
<text x="1950.7" y="581.9" textLength="73" lengthAdjust="spacingAndGlyphs">44200.00</text>
<text x="1950.7" y="630.2" textLength="73" lengthAdjust="spacingAndGlyphs">43400.00</text>
<text x="1950.7" y="678.7" textLength="73" lengthAdjust="spacingAndGlyphs">42600.00</text>
<text x="1950.7" y="728.0" textLength="73" lengthAdjust="spacingAndGlyphs">41800.00</text>
<text x="1950.7" y="775.0" textLength="73" lengthAdjust="spacingAndGlyphs">41050.00</text>
<text x="1950.7" y="827.2" textLength="73" lengthAdjust="spacingAndGlyphs">40250.00</text>
<text x="1950.7" y="879.5" textLength="73" lengthAdjust="spacingAndGlyphs">39450.00</text>
<text x="1950.7" y="932.5" textLength="73" lengthAdjust="spacingAndGlyphs">38650.00</text>
<text x="1950.7" y="980.3" textLength="73" lengthAdjust="spacingAndGlyphs">37950.00</text>
<text x="1950.7" y="1028.8" textLength="73" lengthAdjust="spacingAndGlyphs">37250.00</text>
</g>
<g font-family="Liberation Sans, sans-serif" font-size="18" fill="#50535e" stroke="#50535e" stroke-width="0.2" text-anchor="middle">
<text x="9.70" y="1076.2">8</text>
<text x="193.22" y="1076.2">9</text>
<text x="376.73" y="1076.2">10</text>
<text x="560.25" y="1076.2">11</text>
<text x="743.76" y="1076.2">12</text>
<text x="927.28" y="1076.2">13</text>
<text x="1110.80" y="1076.2">14</text>
<text x="1294.31" y="1076.2" stroke-width="0.75">15</text>
<text x="1477.83" y="1076.2">16</text>
<text x="1661.34" y="1076.2">17</text>
<text x="1844.86" y="1076.2">18</text>
</g>
<rect x="0" y="1047" width="9" height="44" fill="#fff"/>
<rect x="9" y="1047" width="2" height="44" fill="#62656f"/>
<rect x="1965" y="76.5" width="44.5" height="28" rx="4.5" fill="#fff" stroke="#d3d6dc" stroke-width="1.1"/>
<text x="1972.1" y="96.4" font-family="Liberation Sans, sans-serif" font-size="18" fill="#50535e" stroke="#50535e" stroke-width="0.4" textLength="30.6" lengthAdjust="spacingAndGlyphs">USD</text>
<rect x="1937" y="175.3" width="100.5" height="27.4" fill="#ef5350"/>
<text x="1951.2" y="194.8" font-family="Liberation Sans, sans-serif" font-size="17" fill="#fff" stroke="#fff" stroke-width="0.3" textLength="72.4" lengthAdjust="spacingAndGlyphs">51241.56</text>
<rect x="1937" y="188.4" width="6.5" height="1.5" fill="#fff"/>
<rect x="1973.9" y="204.4" width="63.6" height="27" fill="#ef5350"/>
<text x="1980" y="223.6" font-family="Liberation Sans, sans-serif" font-size="17" fill="#fff" stroke="#fff" stroke-width="0.3" textLength="43.6" lengthAdjust="spacingAndGlyphs">49:42</text>
<text x="23.7" y="97.7" font-family="Liberation Sans, sans-serif" font-size="19.5" font-weight="bold" fill="#50535e" textLength="304.4" lengthAdjust="spacingAndGlyphs">Bitcoin / U.S. Dollar, 1h, BITSTAMP</text>
<text x="23.5" y="123.7" font-family="Liberation Sans, sans-serif" font-size="19.5" fill="#50535e" textLength="26.4" lengthAdjust="spacingAndGlyphs">Vol</text>
<text x="9.4" y="24.9" font-family="Liberation Sans, sans-serif" font-size="20" font-weight="bold" fill="#131722" textLength="90.4" lengthAdjust="spacingAndGlyphs">samslav84</text>
<text x="106.6" y="24.9" font-family="Liberation Sans, sans-serif" font-size="20" fill="#131722" textLength="553.0" lengthAdjust="spacingAndGlyphs">published on TradingView.com, February 17, 2021 12:10:19 UTC</text>
<text x="9.6" y="50.7" font-family="Liberation Sans, sans-serif" font-size="20" font-weight="bold" fill="#131722" textLength="198.2" lengthAdjust="spacingAndGlyphs">BITSTAMP:BTCUSD, 60</text>
<text x="217" y="50.7" font-family="Liberation Sans, sans-serif" font-size="20" fill="#131722" textLength="77.6" lengthAdjust="spacingAndGlyphs">51241.56</text>
<polygon points="300.8,50.6 316.1,50.6 308.45,35.7" fill="#26a69a"/>
<text x="323" y="50.7" font-family="Liberation Sans, sans-serif" font-size="20" fill="#131722" textLength="157.2" lengthAdjust="spacingAndGlyphs">+2075.03 (+4.22%)</text>
<text x="487" y="50.7" font-family="Liberation Sans, sans-serif" font-size="20" font-weight="bold" fill="#131722" textLength="20.5" lengthAdjust="spacingAndGlyphs">O:</text>
<text x="509.9" y="50.7" font-family="Liberation Sans, sans-serif" font-size="20" fill="#26a69a" textLength="78.6" lengthAdjust="spacingAndGlyphs">51265.10</text>
<text x="596.4" y="50.7" font-family="Liberation Sans, sans-serif" font-size="20" font-weight="bold" fill="#131722" textLength="18.8" lengthAdjust="spacingAndGlyphs">H:</text>
<text x="617.9" y="50.7" font-family="Liberation Sans, sans-serif" font-size="20" fill="#26a69a" textLength="77.7" lengthAdjust="spacingAndGlyphs">51432.16</text>
<text x="703.1" y="50.7" font-family="Liberation Sans, sans-serif" font-size="20" font-weight="bold" fill="#131722" textLength="13.7" lengthAdjust="spacingAndGlyphs">L:</text>
<text x="719.5" y="50.7" font-family="Liberation Sans, sans-serif" font-size="20" fill="#26a69a" textLength="78.7" lengthAdjust="spacingAndGlyphs">51190.00</text>
<text x="805.5" y="50.7" font-family="Liberation Sans, sans-serif" font-size="20" font-weight="bold" fill="#131722" textLength="16.2" lengthAdjust="spacingAndGlyphs">C:</text>
<text x="824.6" y="50.7" font-family="Liberation Sans, sans-serif" font-size="20" fill="#26a69a" textLength="78.5" lengthAdjust="spacingAndGlyphs">51241.56</text>
<g fill="#52b7bc">
<circle cx="15.1" cy="1121.2" r="6"/>
<circle cx="26.1" cy="1115.9" r="9.1"/>
<circle cx="38.6" cy="1118.6" r="5"/>
<circle cx="43.2" cy="1123.6" r="5.9"/>
<rect x="10.5" y="1119" width="35" height="11" rx="3.2"/>
</g>
<g stroke="#fff" stroke-width="1.1" fill="none"><polyline points="9.5,1127.4 23.9,1116.2 33.4,1125 43.6,1114.9"/></g>
<circle cx="23.9" cy="1116.2" r="2.75" fill="#fff"/><circle cx="33.4" cy="1125" r="2.75" fill="#fff"/>
<text x="52" y="1124.5" font-family="Liberation Sans, sans-serif" font-size="19.5" fill="#131722" textLength="106.9" lengthAdjust="spacingAndGlyphs">TradingView</text>
</svg>
</body></html>
